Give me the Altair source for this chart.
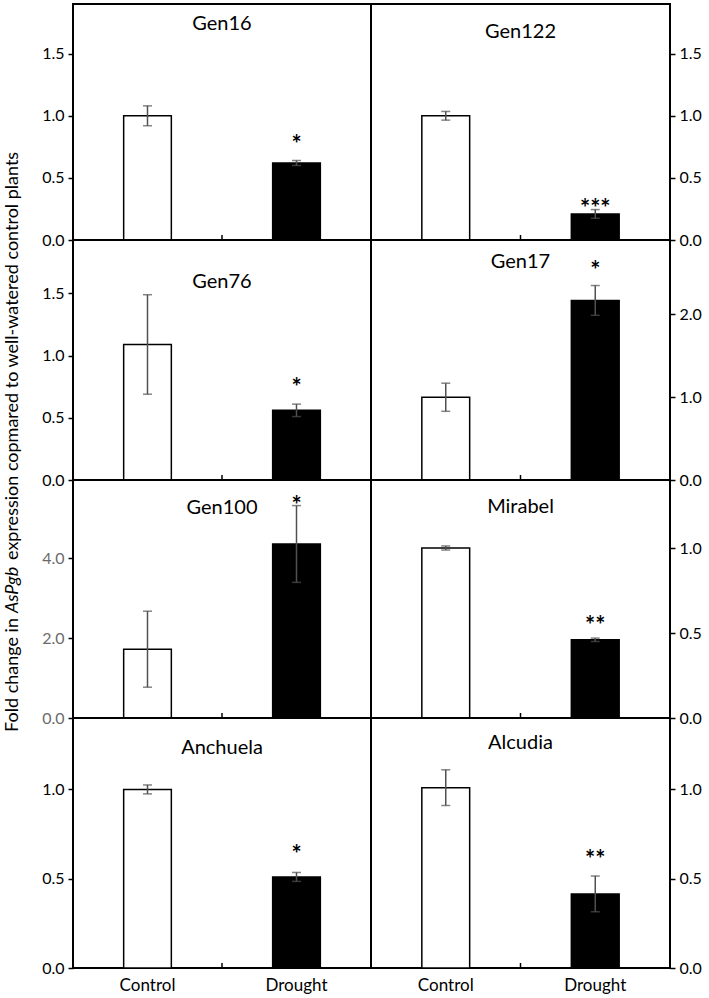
import altair as alt
import pandas as pd

# ---- data -------------------------------------------------------------
genotypes = ["Gen16", "Gen122", "Gen76", "Gen17", "Gen100", "Mirabel", "Anchuela", "Alcudia"]
treatments = ["Control", "Drought"]
control_mean = [1.00, 1.00, 1.09, 1.00, 1.72, 1.00, 1.00, 1.01]
control_err = [0.08, 0.035, 0.40, 0.17, 0.95, 0.012, 0.025, 0.10]
drought_mean = [0.62, 0.21, 0.56, 2.17, 4.35, 0.46, 0.51, 0.415]
drought_err = [0.02, 0.035, 0.05, 0.18, 0.96, 0.01, 0.025, 0.10]
significance = ["*", "***", "*", "*", "*", "**", "*", "**"]

# y axis extent and tick values of each panel
y_max = [1.9, 1.9, 1.93, 2.9, 5.95, 1.4, 1.4, 1.4]
y_ticks = [
    [0, 0.5, 1.0, 1.5], [0, 0.5, 1.0, 1.5],
    [0, 0.5, 1.0, 1.5], [0, 1.0, 2.0],
    [0, 2.0, 4.0], [0, 0.5, 1.0],
    [0, 0.5, 1.0], [0, 0.5, 1.0],
]

# ---- layout / style -----------------------------------------------------
FONT = "Lato"
ROW_H = [236, 240, 238, 250]
COL_W = [298, 299]
TITLE_BASE = [26, 34, 48, 28, 34, 33, 36, 31]   # px below panel top
STAR_GAP = [18, 3, 18, 17, 2, 14, 19, 18]       # px between error cap and asterisk
LABEL_COLOR = ["black"] * 4 + ["#6b6b6b"] + ["black"] * 3
CONTROL_EDGE = ["black", "black", "#555555", "black", "black", "black", "black", "black"]
ERR_COLOR = "#505050"
STAR_SIZE = 24


def panel(i):
    col = i % 2
    row = i // 2
    w, h = COL_W[col], ROW_H[row]
    df = pd.DataFrame({
        "treatment": treatments,
        "mean": [control_mean[i], drought_mean[i]],
        "lo": [control_mean[i] - control_err[i], drought_mean[i] - drought_err[i]],
        "hi": [control_mean[i] + control_err[i], drought_mean[i] + drought_err[i]],
        "star": ["", significance[i]],
    })
    base = alt.Chart(df)
    single = alt.Chart(pd.DataFrame({"name": [genotypes[i]]}))

    if row == 3:
        xaxis = alt.Axis(title=None, ticks=False, domain=False, labelAngle=0,
                         labelFontSize=17, labelColor="black", labelPadding=9,
                         labelFont=FONT)
    else:
        xaxis = None
    xscale = alt.Scale(domain=treatments, paddingInner=0.68, paddingOuter=0.34)
    x = alt.X("treatment:N", scale=xscale, axis=xaxis, sort=treatments)

    yscale = alt.Scale(domain=[0, y_max[i]], nice=False, zero=True)
    yaxis = alt.Axis(values=y_ticks[i], format=".1f", orient="left" if col == 0 else "right",
                     title=None, grid=False, domain=False, tickSize=5, tickWidth=1.5,
                     tickColor="black", labelFontSize=16, labelColor=LABEL_COLOR[i],
                     labelPadding=4, labelFont=FONT, labelOverlap=False)

    def yq(field):
        return alt.Y(field, type="quantitative", scale=yscale, axis=yaxis, title=None)

    bars = base.mark_bar(strokeWidth=1.5).encode(
        x=x,
        y=yq("mean"),
        fill=alt.Fill("treatment:N", scale=alt.Scale(domain=treatments, range=["white", "black"]),
                      legend=None),
        stroke=alt.Stroke("treatment:N",
                          scale=alt.Scale(domain=treatments, range=[CONTROL_EDGE[i], "black"]),
                          legend=None),
    )
    whisker = base.mark_rule(color=ERR_COLOR, strokeWidth=1.5).encode(
        x=x, y=yq("lo"), y2="hi:Q"
    )
    cap_lo = base.mark_tick(color=ERR_COLOR, thickness=1.5, size=9).encode(x=x, y=yq("lo"))
    cap_hi = base.mark_tick(color=ERR_COLOR, thickness=1.5, size=9).encode(x=x, y=yq("hi"))
    stars = base.mark_text(fontSize=STAR_SIZE, fontWeight="bold", baseline="alphabetic",
                           dy=-(STAR_GAP[i] - 10), font=FONT, color="black").encode(
        x=x, y=yq("hi"), text="star:N"
    )
    # small inward tick between the two categories
    mid_tick = single.mark_rule(color="black", strokeWidth=1.5).encode(
        x=alt.value(w / 2), y=alt.value(h), y2=alt.value(h - 5)
    )
    name = single.mark_text(fontSize=20, font=FONT, fontWeight="normal", baseline="alphabetic",
                            color="black").encode(
        x=alt.value(w / 2), y=alt.value(TITLE_BASE[i]), text="name:N"
    )
    return alt.layer(bars, whisker, cap_lo, cap_hi, stars, mid_tick, name).properties(
        width=w, height=h
    )


# 4 x 2 grid of panels sharing their borders
grid = alt.concat(*[panel(i) for i in range(8)], columns=2, spacing=0,
                  bounds="flush", align="each")

# y-axis title with the gene name in italics
total_h = sum(ROW_H)
t = alt.Chart(pd.DataFrame({"k": [0]}))
title_style = dict(angle=270, fontSize=18, font=FONT, baseline="middle", color="black")
seg1 = t.mark_text(align="right", **title_style).encode(
    x=alt.value(8), y=alt.value(614), text=alt.value("Fold change in")
)
seg2 = t.mark_text(align="left", fontStyle="italic", **title_style).encode(
    x=alt.value(8), y=alt.value(609), text=alt.value("AsPgb")
)
seg3 = t.mark_text(align="left", **title_style).encode(
    x=alt.value(8), y=alt.value(556),
    text=alt.value("expression copmared to well-watered control plants"),
)
title_col = alt.layer(seg1, seg2, seg3).properties(
    width=16, height=total_h, view=alt.ViewBackground(stroke="transparent")
)

chart = alt.hconcat(title_col, grid, spacing=17).properties(
    padding={"left": 2, "top": 3, "right": 0, "bottom": 0}
).configure_view(stroke="black", strokeWidth=2)

chart.save("out.html", embed_options={"renderer": "svg", "actions": False})
